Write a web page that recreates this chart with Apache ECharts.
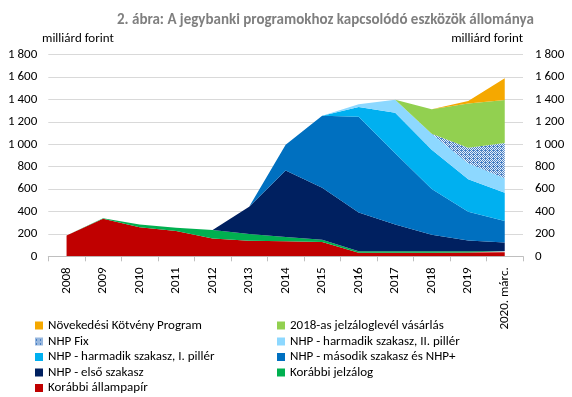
<!DOCTYPE html>
<html><head><meta charset="utf-8">
<script src="https://cdn.jsdelivr.net/npm/echarts@6/dist/echarts.min.js"></script>
<style>html,body{margin:0;padding:0;background:#fff}#c{width:572px;height:397px}</style>
</head><body><div id="c"></div>
<script>
const categories = ['2008','2009','2010','2011','2012','2013','2014','2015','2016','2017','2018','2019','2020. márc.'];
const korabbiAllampapir = [185,335,260,225,158,138,134,128,32,32,32,34,36];
const korabbiJelzalog   = [0,5,25,30,76,60,38,20,14,12,12,12,10];
const nhpElso           = [0,0,0,0,0,245,593,464,344,239,149,96,78];
const nhpMasodik        = [0,0,0,0,0,0,230,643,855,637,407,256,191];
const nhpHarmadikI      = [0,0,0,0,0,0,0,0,87,362,352,291,253];
const nhpHarmadikII     = [0,0,0,0,0,0,0,0,26,116,143,141,128];
const nhpFix            = [0,0,0,0,0,0,0,0,0,0,0,140,316];
const jelzaloglevel2018 = [0,0,0,0,0,0,0,0,0,0,217,395,384];
const novekedesiKotveny = [0,0,0,0,0,0,0,0,0,0,2,22,194];
const legendLeft  = ['Növekedési Kötvény Program','NHP Fix','NHP - harmadik szakasz, I. pillér','NHP - első szakasz','Korábbi állampapír'];
const legendRight = ['2018-as jelzáloglevél vásárlás','NHP - harmadik szakasz, II. pillér','NHP - második szakasz és NHP+','Korábbi jelzálog'];

const FONT = 'Carlito, Lato, sans-serif';
// hatch pattern for NHP Fix
const pc = document.createElement('canvas');
pc.width = 4; pc.height = 4;
const pctx = pc.getContext('2d');
pctx.fillStyle = '#E4EEF9'; pctx.fillRect(0,0,4,4);
pctx.fillStyle = '#4A80C4';
for (let x=0;x<4;x++) for (let y=0;y<4;y++) if ((x+y)%2===0 || (x===1 && y===2)) pctx.fillRect(x,y,1,1);
const fixPattern = {image: pc, repeat: 'repeat'};

function fmt(v){ return String(v).replace(/\B(?=(\d{3})+(?!\d))/g,' '); }

const seriesDefs = [
  ['Korábbi állampapír', korabbiAllampapir, '#C00000'],
  ['Korábbi jelzálog', korabbiJelzalog, '#00B050'],
  ['NHP - első szakasz', nhpElso, '#002060'],
  ['NHP - második szakasz és NHP+', nhpMasodik, '#0070C0'],
  ['NHP - harmadik szakasz, I. pillér', nhpHarmadikI, '#00B0F0'],
  ['NHP - harmadik szakasz, II. pillér', nhpHarmadikII, '#8DD8FF'],
  ['NHP Fix', nhpFix, fixPattern],
  ['2018-as jelzáloglevél vásárlás', jelzaloglevel2018, '#92D050'],
  ['Növekedési Kötvény Program', novekedesiKotveny, '#F5A800']
];

const series = seriesDefs.map(([name, data, color]) => ({
  name, type: 'line', stack: 'total', data,
  symbol: 'none', showSymbol: false, smooth: false,
  color: color,
  itemStyle: {color: color},
  lineStyle: {width: 0, color: color},
  areaStyle: {color: color, opacity: 1},
  emphasis: {disabled: true},
  animation: false
}));

const legendText = {fontFamily: FONT, fontSize: 13, color: '#000', lineHeight: 15};
const rowTops = [318, 334, 349.5, 365, 380.5];
const legends = [];
legendLeft.forEach((n, i) => legends.push({left: 35, top: rowTops[i], data: [n]}));
legendRight.forEach((n, i) => legends.push({left: 277, top: rowTops[i], data: [n]}));
legends.forEach(l => Object.assign(l, {orient: 'horizontal', itemWidth: 8, itemHeight: 8, itemGap: 1,
  icon: 'rect', textStyle: legendText, selectedMode: false, padding: 0}));

const chart = echarts.init(document.getElementById('c'), null, {renderer: 'canvas'});
chart.setOption({
  animation: false,
  backgroundColor: '#fff',
  title: {
    text: '2. ábra: A jegybanki programokhoz kapcsolódó eszközök állománya',
    left: 112, top: 8,
    textStyle: {fontFamily: FONT, fontSize: 15, fontWeight: 'bold', color: '#7F7F7F'}
  },
  graphic: [
    {type: 'text', left: 42, top: 32, style: {text: 'milliárd forint', font: '13px ' + FONT, fill: '#000'}},
    {type: 'text', right: 49, top: 32, style: {text: 'milliárd forint', font: '13px ' + FONT, fill: '#000'}}
  ],
  grid: {left: 48.3, right: 49, top: 54.7, bottom: 140.7, containLabel: false},
  xAxis: {
    type: 'category', data: categories, boundaryGap: true,
    axisLine: {lineStyle: {color: '#BFBFBF', width: 1}},
    axisTick: {show: true, alignWithLabel: false, length: 5, lineStyle: {color: '#BFBFBF'}},
    axisLabel: {rotate: 90, margin: 11, fontFamily: FONT, fontSize: 13, color: '#000', interval: 0}
  },
  yAxis: [
    {type: 'value', min: 0, max: 1800, interval: 200, position: 'left',
     axisLine: {show: false}, axisTick: {show: false},
     splitLine: {lineStyle: {color: '#D9D9D9', width: 1}},
     axisLabel: {margin: 11, fontFamily: FONT, fontSize: 13, color: '#000', formatter: fmt}},
    {type: 'value', min: 0, max: 1800, interval: 200, position: 'right',
     axisLine: {show: false}, axisTick: {show: false}, splitLine: {show: false},
     axisLabel: {margin: 12, fontFamily: FONT, fontSize: 13, color: '#000', formatter: fmt}}
  ],
  legend: legends,
  series
});
</script></body></html>
